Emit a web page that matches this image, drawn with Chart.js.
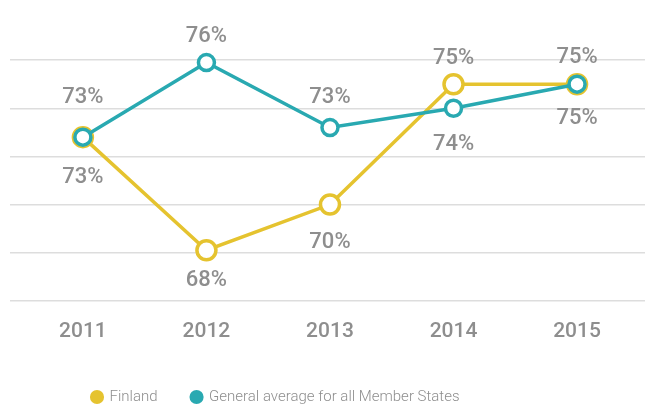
<!DOCTYPE html>
<html>
<head>
<meta charset="utf-8">
<script src="https://cdn.jsdelivr.net/npm/chart.js@4"></script>
<style>
  html, body { margin: 0; padding: 0; background: #fff; overflow: hidden; }
  #wrap { position: relative; width: 645px; height: 417px; }
  #grafico { display: block; }
</style>
</head>
<body>
<div id="wrap"><canvas id="grafico"></canvas></div>
<script>
// Dados do gráfico
const anos = ['2011', '2012', '2013', '2014', '2015'];
const finlandia = [72.8, 68.1, 70.0, 75.0, 75.0];
const mediaGeral = [72.8, 75.9, 73.2, 74.0, 75.0];
const nomesSeries = ['Finland', 'General average for all Member States'];

// Deslocamento vertical dos rótulos (negativo = acima)
const rotulosFinlandia = [40, 30, 38, -26, -27];
const rotulosMedia = [-40, -26, -30, 36, 34];

const corAmarela = '#e5c32f';
const corTurquesa = '#29a9b1';
const corTexto = '#8e8e8e';

// Plugin para os rótulos de valor
const pluginRotulos = {
    id: 'rotulos',
    afterDatasetsDraw(chart) {
        const ctx = chart.ctx;
        const deslocamentos = [rotulosFinlandia, rotulosMedia];
        ctx.save();
        ctx.font = '500 22px Roboto';
        ctx.fillStyle = corTexto;
        ctx.textAlign = 'center';
        ctx.textBaseline = 'middle';
        chart.data.datasets.forEach((ds, i) => {
            const meta = chart.getDatasetMeta(i);
            meta.data.forEach((ponto, j) => {
                const valor = Math.round(ds.data[j].y);
                ctx.fillText(valor + '%', ponto.x, ponto.y + deslocamentos[i][j]);
            });
        });
        ctx.restore();
    }
};

// Altura fixa da legenda e posição dos itens
const pluginLegenda = {
    id: 'posLegenda',
    beforeInit(chart) {
        chart.legend.fit = (function (fitOriginal) {
            return function () {
                fitOriginal.call(this);
                this.height = 63;
            };
        })(chart.legend.fit);
    },
    afterLayout(chart) {
        const lg = chart.legend;
        const pad = lg.options.labels.padding;
        lg.left = 92 - pad;
        lg.top = 397 - pad - 7.5;
    }
};

new Chart(document.getElementById('grafico'), {
    type: 'line',
    data: {
        datasets: [
            {
                label: nomesSeries[0],
                data: finlandia.map((v, i) => ({ x: i, y: v })),
                borderColor: corAmarela,
                backgroundColor: corAmarela,
                pointBackgroundColor: '#fff',
                pointBorderColor: corAmarela,
                borderWidth: 3.5,
                pointRadius: 9.5,
                pointBorderWidth: 3.5,
                order: 1
            },
            {
                label: nomesSeries[1],
                data: mediaGeral.map((v, i) => ({ x: i, y: v })),
                borderColor: corTurquesa,
                backgroundColor: corTurquesa,
                pointBackgroundColor: '#fff',
                pointBorderColor: corTurquesa,
                borderWidth: 3.5,
                pointRadius: 8,
                pointBorderWidth: 3.5,
                order: 0
            }
        ]
    },
    options: {
        responsive: true,
        maintainAspectRatio: false,
        animation: false,
        layout: { autoPadding: false, padding: { top: 12, left: 10, right: 0, bottom: 0 } },
        scales: {
            x: {
                type: 'linear',
                min: -0.59,
                max: 4.55,
                afterBuildTicks(escala) {
                    escala.ticks = anos.map((a, i) => ({ value: i }));
                },
                afterFit(escala) {
                    escala.paddingLeft = 0;
                    escala.paddingRight = 0;
                },
                ticks: {
                    padding: 10,
                    color: corTexto,
                    font: { family: 'Roboto', size: 21, weight: '500' },
                    callback: (v) => anos[v]
                },
                grid: { display: false },
                border: { display: false }
            },
            y: {
                min: 66,
                max: 78,
                ticks: { display: false, stepSize: 2 },
                grid: {
                    drawTicks: false,
                    color: (c) => c.tick && c.tick.value === 78 ? 'rgba(0,0,0,0)' : '#dddddd',
                    lineWidth: 1.5
                },
                border: { display: false }
            }
        },
        plugins: {
            tooltip: { enabled: false },
            legend: {
                position: 'bottom',
                align: 'start',
                labels: {
                    usePointStyle: true,
                    pointStyle: 'circle',
                    boxWidth: 10,
                    boxHeight: 10,
                    padding: 34,
                    color: corTexto,
                    font: { family: 'Roboto', size: 15, weight: '300' },
                    sort: (a, b) => a.datasetIndex - b.datasetIndex,
                    generateLabels(chart) {
                        const itens = Chart.defaults.plugins.legend.labels.generateLabels(chart);
                        itens.forEach((item) => {
                            const cor = chart.data.datasets[item.datasetIndex].borderColor;
                            item.fillStyle = cor;
                            item.strokeStyle = cor;
                            item.lineWidth = 0;
                        });
                        return itens;
                    }
                }
            }
        }
    },
    plugins: [pluginRotulos, pluginLegenda]
});
</script>
</body>
</html>
